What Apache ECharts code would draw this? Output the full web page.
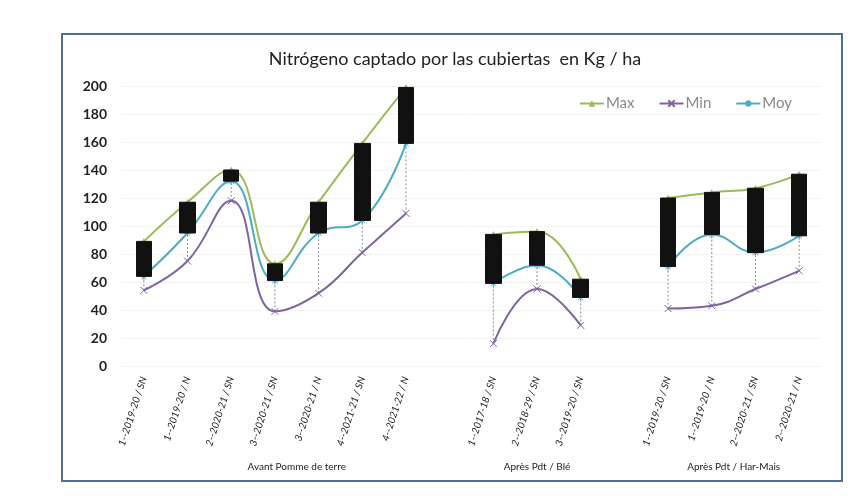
<!DOCTYPE html>
<html>
<head>
<meta charset="utf-8">
<script src="https://cdn.jsdelivr.net/npm/echarts@6/dist/echarts.min.js"></script>
<style>
  html, body { margin: 0; padding: 0; background: #fff; }
  #chart { width: 857px; height: 502px; }
</style>
</head>
<body>
<div id="chart"></div>
<script>
// categories, blank slots separate the three groups
const categories = [
  '1--2019-20 / SN', '1--2019-20 / N', '2--2020-21 / SN', '3--2020-21 / SN',
  '3--2020-21 / N', '4--2021-21 / SN', '4--2021-22 / N', '',
  '1--2017-18 / SN', '2--2018-29 / SN', '3--2019-20 / SN', '',
  '1--2019-20 / SN', '1--2019-20 / N', '2--2020-21 / SN', '2--2020-21 / N'
]
const maxValues = [89, 117, 140, 73, 117, 159, 199, null, 94, 96, 62, null, 120, 124, 127, 137]
const minValues = [54, 75, 118, 39, 52, 81, 109, null, 16, 55, 29, null, 41, 43, 55, 68]
const moyValues = [64, 95, 132, 61, 95, 104, 159, null, 59, 72, 49, null, 71, 94, 81, 93]
const groupLabels = ['Avant Pomme de terre', 'Après Pdt / Blé', 'Après Pdt / Har-Mais']
const groupCenters = [3.5, 9, 13.5]
const yTicks = [0, 20, 40, 60, 80, 100, 120, 140, 160, 180, 200]

const font = 'Lato, "Open Sans", sans-serif'

let chartDom = document.getElementById('chart')
let myChart = echarts.init(chartDom)

// up-down boxes between Moy and Max
let boxData = categories.map((c, i) =>
  maxValues[i] == null ? '-' : [moyValues[i], maxValues[i], moyValues[i], maxValues[i]])
// high-low lines from Min to Max
let hiLoData = categories.map((c, i) =>
  maxValues[i] == null ? [i, null, null] : [i, minValues[i], maxValues[i]])

let option = {
  animation: false,
  title: {
    text: 'Nitrógeno captado por las cubiertas  en Kg / ha',
    left: 450,
    textAlign: 'center',
    top: 45,
    textStyle: { fontFamily: font, fontSize: 18, fontWeight: 'normal', color: '#222' }
  },
  legend: {
    top: 91,
    right: 60,
    itemGap: 24,
    itemWidth: 24,
    itemHeight: 8,
    data: ['Max', 'Min', 'Moy'],
    textStyle: { fontFamily: font, fontSize: 15, color: '#8a8a8a', padding: [0, 0, 0, -3] }
  },
  graphic: [{
    type: 'rect',
    shape: { x: 62, y: 34, width: 780, height: 447 },
    style: { fill: 'none', stroke: '#4f6f99', lineWidth: 2 },
    silent: true
  }],
  grid: { left: 122, right: 36, top: 86, bottom: 136 },
  xAxis: [
    {
      type: 'category',
      data: categories,
      boundaryGap: true,
      axisLine: { show: false },
      axisTick: { show: false },
      axisLabel: {
        interval: 0,
        rotate: 72,
        fontFamily: font,
        fontStyle: 'italic',
        fontSize: 10,
        color: '#222',
        margin: 11
      }
    },
    {
      type: 'value',
      position: 'bottom',
      min: -0.5,
      max: 15.5,
      axisLine: { show: false },
      axisTick: { show: false },
      splitLine: { show: false },
      axisLabel: {
        customValues: groupCenters,
        formatter: v => groupLabels[groupCenters.indexOf(v)] || '',
        margin: 96,
        fontFamily: font,
        fontSize: 10,
        color: '#222'
      }
    }
  ],
  yAxis: {
    type: 'value',
    min: 0,
    max: 200,
    interval: 20,
    axisLine: { show: false },
    axisTick: { show: false },
    splitLine: { lineStyle: { color: '#f3f3f3' } },
    axisLabel: {
      formatter: v => yTicks.includes(v) ? String(v) : '',
      fontFamily: font,
      fontSize: 14,
      fontWeight: 'bold',
      color: '#222',
      margin: 15
    }
  },
  series: [
    {
      name: 'hilo',
      type: 'custom',
      data: hiLoData,
      z: 1,
      encode: { x: 0, y: [1, 2] },
      renderItem: function (params, api) {
        let lo = api.value(1)
        let hi = api.value(2)
        if (isNaN(lo) || isNaN(hi)) return
        let p1 = api.coord([api.value(0), lo])
        let p2 = api.coord([api.value(0), hi])
        return {
          type: 'line',
          shape: { x1: p1[0], y1: p1[1], x2: p2[0], y2: p2[1] },
          style: { stroke: '#8a8a9a', lineWidth: 1, lineDash: [2, 2] }
        }
      }
    },
    {
      name: 'Max',
      type: 'line',
      data: maxValues,
      smooth: 0.45,
      connectNulls: false,
      z: 3,
      symbol: 'triangle',
      symbolSize: 7,
      lineStyle: { color: '#9bbb59', width: 2 },
      itemStyle: { color: '#9bbb59' }
    },
    {
      name: 'Min',
      type: 'line',
      data: minValues,
      smooth: 0.45,
      connectNulls: false,
      z: 3,
      symbol: 'path://M0,0L10,10M10,0L0,10',
      symbolSize: 7,
      lineStyle: { color: '#8064a2', width: 2 },
      itemStyle: { color: 'none', borderColor: '#8064a2', borderWidth: 1 }
    },
    {
      name: 'Moy',
      type: 'line',
      data: moyValues,
      smooth: 0.45,
      connectNulls: false,
      z: 3,
      symbol: 'path://M0,5L10,5M5,0L5,10M1.5,1.5L8.5,8.5M8.5,1.5L1.5,8.5',
      symbolSize: 8,
      lineStyle: { color: '#4bacc6', width: 2 },
      itemStyle: { color: 'none', borderColor: '#4bacc6', borderWidth: 1 }
    },
    {
      name: 'box',
      type: 'candlestick',
      data: boxData,
      barWidth: 16,
      z: 4,
      itemStyle: {
        color: '#111',
        color0: '#111',
        borderColor: '#111',
        borderColor0: '#111',
        borderWidth: 1
      }
    }
  ]
}

option && myChart.setOption(option)
</script>
</body>
</html>
